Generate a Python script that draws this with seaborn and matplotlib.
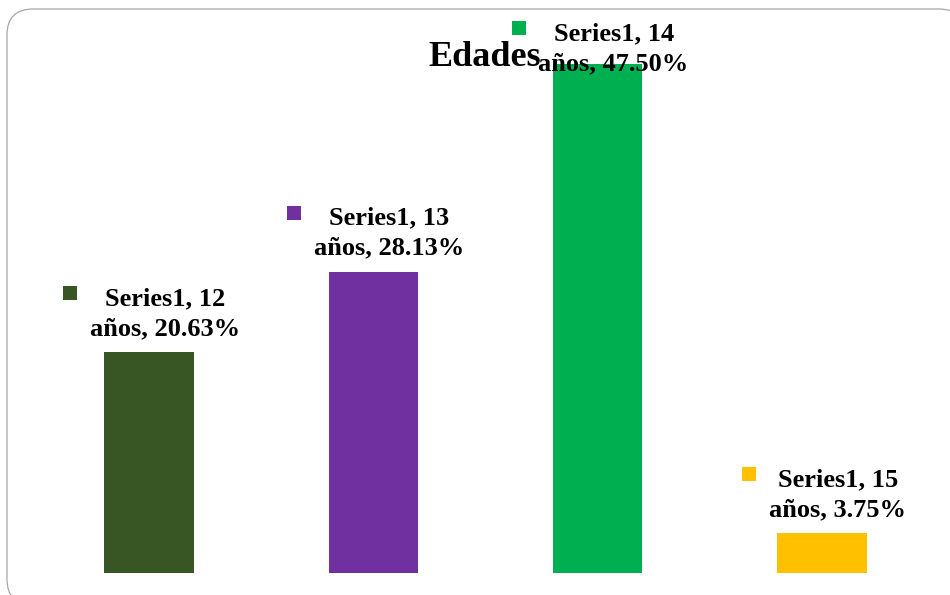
import matplotlib
matplotlib.use("Agg")
import matplotlib.pyplot as plt
import matplotlib.transforms as mtransforms
from matplotlib.patches import FancyBboxPatch
import seaborn as sns
import pandas as pd

# ---- data ----
categories = ["12 años", "13 años", "14 años", "15 años"]
values = [20.63, 28.13, 47.50, 3.75]
series_name = "Series1"
colors = ["#375623", "#7030A0", "#00B050", "#FFC000"]
title = "Edades"

sns.set_theme(style="white")
plt.rcParams["font.family"] = ["Liberation Serif", "DejaVu Serif"]

W, H, DPI = 950, 595, 100
fig = plt.figure(figsize=(W / DPI, H / DPI), dpi=DPI)

# background axes for rounded border (pixel coordinates)
bg = fig.add_axes([0, 0, 1, 1], zorder=-5)
bg.set_xlim(0, W)
bg.set_ylim(H, 0)
bg.axis("off")
bg.add_patch(FancyBboxPatch((7, 9), 958, 596,
                            boxstyle="round,pad=0,rounding_size=26",
                            facecolor="white", edgecolor="#A6A6A6",
                            linewidth=0.9, clip_on=False))

ax = fig.add_axes([37 / W, 22 / H, (934 - 37) / W, 535.5 / H])
ax.patch.set_alpha(0)
df = pd.DataFrame({"cat": categories, "val": values})
sns.barplot(data=df, x="cat", y="val", hue="cat", palette=colors,
            legend=False, width=0.4, ax=ax, saturation=1, linewidth=0,
            edgecolor="none")
ax.set_xlim(-0.5, 3.5)
ax.set_ylim(0, 50)
ax.axis("off")

ax.text(484.5 / W, 1 - 66 / H, title, transform=fig.transFigure,
        ha="center", va="baseline", fontsize=26, fontweight="bold",
        color="black", zorder=1)

fig.canvas.draw()
fs = 19
for i, (c, v) in enumerate(zip(categories, values)):
    xd, yd = ax.transData.transform((i, v))
    top_from_top = H - yd
    line1_from_top = top_from_top - 47
    shift = max(0, 40 - line1_from_top)
    num = c.split(" ")[0]
    rest = c.split(" ")[1]
    l1 = f"{series_name}, {num}"
    l2 = f"{rest}, {v:.2f}%"
    t1 = ax.annotate(l1, xy=(i, v), xytext=(16, 47 - shift),
                     textcoords="offset pixels", ha="center", va="baseline",
                     fontsize=fs, fontweight="bold", color="black", zorder=5)
    t2 = ax.annotate(l2, xy=(i, v), xytext=(16, 17 - shift),
                     textcoords="offset pixels", ha="center", va="baseline",
                     fontsize=fs, fontweight="bold", color="black", zorder=5)
    r = fig.canvas.get_renderer()
    left = min(t1.get_window_extent(r).x0, t2.get_window_extent(r).x0)
    dx = (left - 20) - xd
    dy = 47 - shift + 12
    tr = mtransforms.offset_copy(ax.transData, fig=fig, x=dx, y=dy, units="dots")
    ax.plot([i], [v], marker="s", markersize=14 * 72 / DPI, color=colors[i],
            markeredgewidth=0, linestyle="none", transform=tr, clip_on=False,
            zorder=5)

fig.savefig("out.png", dpi=DPI)
